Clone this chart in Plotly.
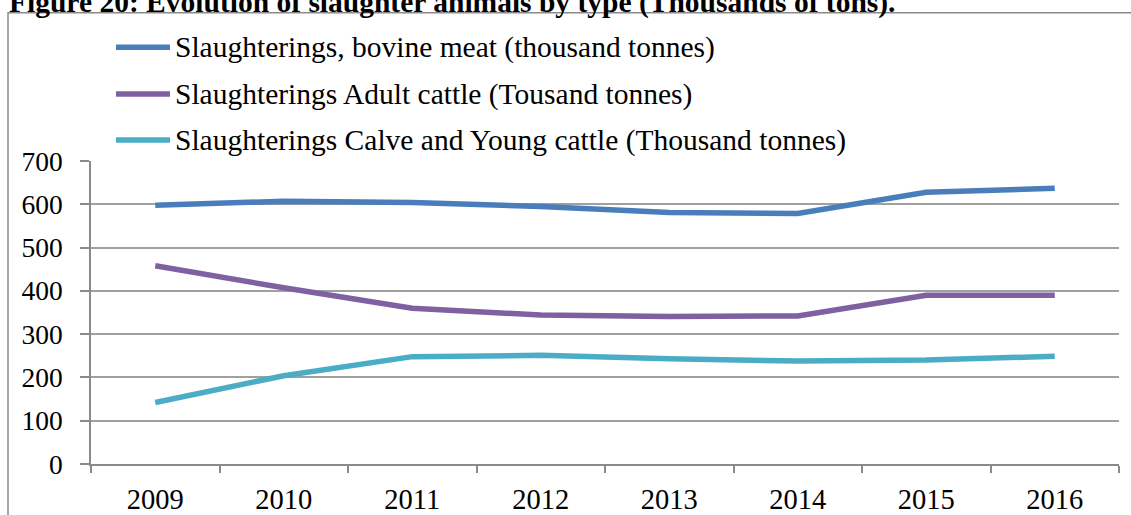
import plotly.graph_objects as go

years = ["2009", "2010", "2011", "2012", "2013", "2014", "2015", "2016"]
bovine_meat = [598, 607, 604, 595, 581, 579, 628, 637]
adult_cattle = [458, 407, 360, 344, 341, 342, 390, 390]
calves_young = [142, 204, 248, 251, 243, 238, 240, 249]

series_names = [
    "Slaughterings, bovine meat (thousand tonnes)",
    "Slaughterings Adult cattle (Tousand tonnes)",
    "Slaughterings Calve and Young cattle (Thousand tonnes)",
]
series_values = [bovine_meat, adult_cattle, calves_young]
series_colors = ["#4a7ebb", "#7f60a0", "#4bacc6"]

title_text = "Figure 20: Evolution of slaughter animals by type (Thousands of tons)."

W, H = 1131, 515
L, R, T, B = 91, 12, 160.6, 50.6
plot_w = W - L - R
plot_h = H - T - B
FONT = "Liberation Serif"


def px_x(px):
    return (px - L) / plot_w


def px_y(py):
    return (H - B - py) / plot_h


fig = go.Figure()
for name, vals, col in zip(series_names, series_values, series_colors):
    fig.add_trace(go.Scatter(
        x=years, y=vals, name=name, mode="lines",
        line=dict(color=col, width=5.5),
        showlegend=False, hoverinfo="x+y+name",
    ))

# Legend drawn as line samples with labels
legend_rows = [46.5, 93.5, 139.5]
for py, name, col in zip(legend_rows, series_names, series_colors):
    fig.add_shape(type="line", xref="paper", yref="paper",
                  x0=px_x(116), x1=px_x(170), y0=px_y(py), y1=px_y(py),
                  line=dict(color=col, width=5.5))
    fig.add_annotation(xref="paper", yref="paper", x=px_x(173), y=px_y(py + 0.5),
                       xanchor="left", yanchor="middle", showarrow=False,
                       text=name, font=dict(family=FONT, size=29.5, color="black"))

# Outer chart frame
fig.add_shape(type="rect", xref="paper", yref="paper", layer="below",
              x0=px_x(8), x1=px_x(1140), y0=px_y(12), y1=px_y(525),
              line=dict(color="#8a8a8a", width=1.5), fillcolor="rgba(0,0,0,0)")

# Caption above the frame
fig.add_annotation(xref="paper", yref="paper", x=px_x(7), y=px_y(20),
                   xanchor="left", yanchor="bottom", showarrow=False,
                   text="<b>" + title_text + "</b>",
                   font=dict(family=FONT, size=29.5, color="black"))

fig.update_layout(
    width=W, height=H,
    margin=dict(l=L, r=R, t=T, b=B, autoexpand=False),
    paper_bgcolor="white", plot_bgcolor="white",
    font=dict(family=FONT, size=27, color="black"),
    xaxis=dict(
        type="category", range=[-0.5, 7.5], tickson="boundaries",
        ticks="outside", ticklen=7, tickwidth=1.5, tickcolor="#8a8a8a",
        showgrid=False, showline=True, linecolor="#8a8a8a", linewidth=1.5,
        tickfont=dict(family=FONT, size=28.5, color="black"),
        ticklabelstandoff=9, zeroline=False, automargin=False,
    ),
    yaxis=dict(
        range=[0, 700], tickmode="array", tickvals=list(range(0, 701, 100)),
        ticks="outside", ticklen=9, tickwidth=1.5, tickcolor="#8a8a8a",
        showgrid=True, gridcolor="#a0a0a0", gridwidth=1.5,
        showline=True, linecolor="#8a8a8a", linewidth=1.5, zeroline=False,
        tickfont=dict(family=FONT, size=27.5, color="black"),
        ticklabelstandoff=12, automargin=False,
    ),
)

fig.write_html("out.html")
